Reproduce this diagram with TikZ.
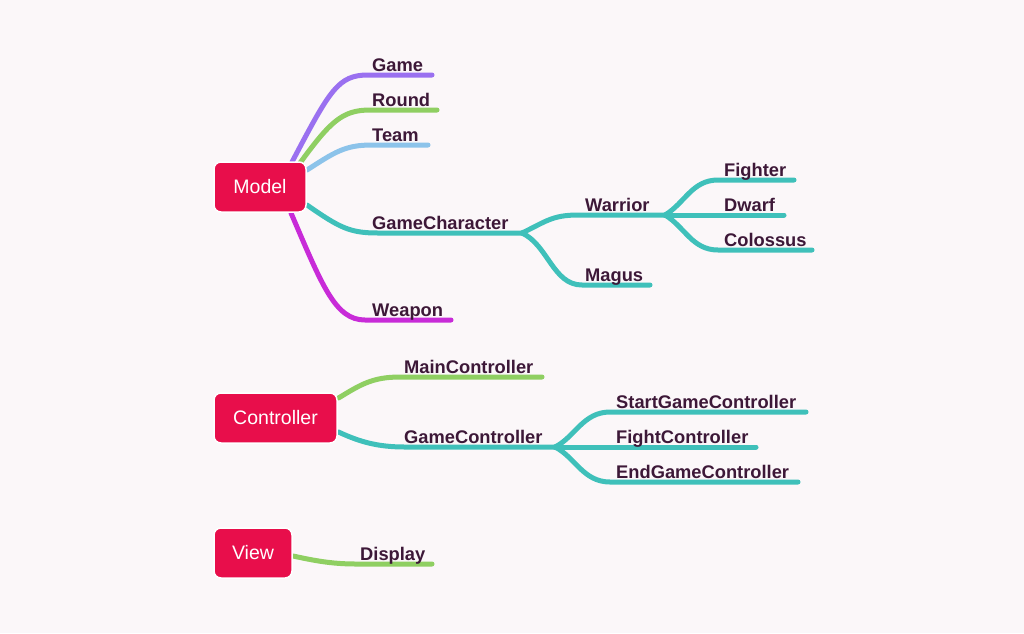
\documentclass[tikz,border=0pt]{standalone}
\usepackage{fontspec}
\setmainfont{Liberation Sans}
\pgfdeclarelayer{bg}
\pgfdeclarelayer{lines}
\pgfsetlayers{bg,lines,main}
\definecolor{bgc}{HTML}{FBF7F9}
\definecolor{boxc}{HTML}{E80E4B}
\definecolor{txt}{HTML}{3D1838}
\definecolor{cpurple}{HTML}{9A70F0}
\definecolor{cgreen}{HTML}{8FCF62}
\definecolor{cblue}{HTML}{8CC3EA}
\definecolor{cteal}{HTML}{3FC0BA}
\definecolor{cmag}{HTML}{C82BD8}
\tikzset{
  topic/.style={draw=white, line width=1.5pt, fill=boxc, rounded corners=7pt, text=white,
    font=\fontsize{19.5}{22}\selectfont, inner sep=0pt, minimum height=50pt},
  lbl/.style={anchor=base west, inner sep=0pt, text=txt, font=\fontsize{18.3}{20}\selectfont\bfseries},
  branch/.style={line width=5pt, line cap=round},
}
\begin{document}
\begin{tikzpicture}[x=1pt,y=-1pt]
\begin{pgfonlayer}{bg}
\fill[bgc] (0,0) rectangle (1024,633);
\end{pgfonlayer}
\useasboundingbox (0,0) rectangle (1024,633);
% topic boxes
\node[topic, minimum width=92pt] (model) at (260,187) {Model};
\node[topic, minimum width=123pt] (ctrl) at (275.5,418) {Controller};
\node[topic, minimum width=78pt] (view) at (253,553) {View};
% labels
\node[lbl] (game) at (372,71) {Game};
\node[lbl] (round) at (372,106) {Round};
\node[lbl] (team) at (372,141) {Team};
\node[lbl] (gc) at (372,229) {GameCharacter};
\node[lbl] (weapon) at (372,316) {Weapon};
\node[lbl] (warrior) at (585,211) {Warrior};
\node[lbl] (magus) at (585,281) {Magus};
\node[lbl] (fighter) at (724,176) {Fighter};
\node[lbl] (dwarf) at (724,211) {Dwarf};
\node[lbl] (colossus) at (724,246) {Colossus};
\node[lbl] (mainc) at (404,373) {MainController};
\node[lbl] (gamec) at (404,443) {GameController};
\node[lbl] (startc) at (616,408) {StartGameController};
\node[lbl] (fightc) at (616,443) {FightController};
\node[lbl] (endc) at (616,478) {EndGameController};
\node[lbl] (display) at (360,560) {Display};
% coordinates
\coordinate (gameE) at (432,75);
\coordinate (roundE) at (437,110);
\coordinate (teamE) at (428,145);
\coordinate (gcB) at (522,233);
\coordinate (weaponE) at (451,320);
\coordinate (warB) at (665,215);
\coordinate (magusE) at (650,285);
\coordinate (fighterE) at (794,180);
\coordinate (dwarfE) at (784,215);
\coordinate (colE) at (812,250);
\coordinate (maincE) at (542,377);
\coordinate (gamecB) at (555,447);
\coordinate (startcE) at (806,412);
\coordinate (fightcE) at (756,447);
\coordinate (endcE) at (798,482);
\coordinate (displayE) at (432,564);
\begin{pgfonlayer}{lines}
\draw[branch, cpurple] ([shift={(32,-25)}]model.center) .. controls (330,90) and (338,75) .. (368,75) -- (gameE);
\draw[branch, cgreen] ([shift={(40,-24)}]model.center) .. controls (330,122) and (342,110) .. (370,110) -- (roundE);
\draw[branch, cblue] ([shift={(47,-17)}]model.center) .. controls (335,152) and (345,145) .. (372,145) -- (teamE);
\draw[branch, cteal] ([shift={(47,18)}]model.center) .. controls (340,228) and (350,233) .. (378,233) -- (gcB);
\draw[branch, cmag] ([shift={(31,26)}]model.center) .. controls (322,285) and (335,320) .. (365,320) -- (weaponE);
\draw[branch, cteal] (gcB) .. controls (545,222) and (552,215) .. (578,215) -- (warB);
\draw[branch, cteal] (gcB) .. controls (548,245) and (553,285) .. (582,285) -- (magusE);
\draw[branch, cteal] (warB) .. controls (685,203) and (692,180) .. (718,180) -- (fighterE);
\draw[branch, cteal] (warB) -- (dwarfE);
\draw[branch, cteal] (warB) .. controls (685,227) and (692,250) .. (718,250) -- (colE);
\draw[branch, cgreen] ([shift={(63,-20)}]ctrl.center) .. controls (360,385) and (372,377) .. (400,377) -- (maincE);
\draw[branch, cteal] ([shift={(63,14)}]ctrl.center) .. controls (360,442) and (378,447) .. (405,447) -- (gamecB);
\draw[branch, cteal] (gamecB) .. controls (575,437) and (583,412) .. (610,412) -- (startcE);
\draw[branch, cteal] (gamecB) -- (fightcE);
\draw[branch, cteal] (gamecB) .. controls (575,457) and (583,482) .. (610,482) -- (endcE);
\draw[branch, cgreen] ([shift={(40,3)}]view.center) .. controls (312,560) and (330,564) .. (356,564) -- (displayE);
\end{pgfonlayer}
\end{tikzpicture}
\end{document}
